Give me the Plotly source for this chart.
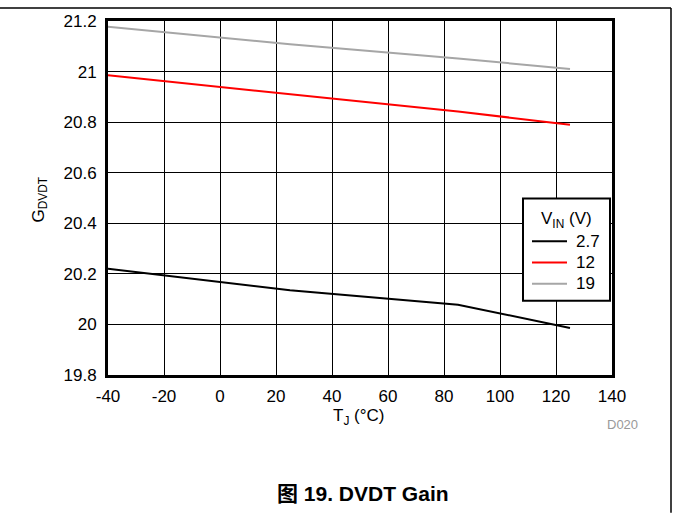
import plotly.graph_objects as go

temps = [-40, 0, 25, 85, 125]
g_27 = [20.22, 20.168, 20.135, 20.078, 19.986]
g_12 = [20.985, 20.94, 20.912, 20.842, 20.79]
g_19 = [21.177, 21.135, 21.108, 21.052, 21.01]
series_names = ["2.7", "12", "19"]
series_colors = ["#000000", "#ff0000", "#a6a6a6"]
x_ticks = [-40, -20, 0, 20, 40, 60, 80, 100, 120, 140]
y_ticks = [19.8, 20, 20.2, 20.4, 20.6, 20.8, 21, 21.2]
y_labels = ["19.8", "20", "20.2", "20.4", "20.6", "20.8", "21", "21.2"]

W, H = 673, 514
L, R, T, B = 108, 61, 18, 139
pw, ph = W - L - R, H - T - B

FAM = "Liberation Sans, Arial, sans-serif"
font = dict(family=FAM, size=17, color="black")

fig = go.Figure()
for name, vals, col in zip(series_names, [g_27, g_12, g_19], series_colors):
    fig.add_trace(go.Scatter(x=temps, y=vals, mode="lines", name=name,
                             line=dict(color=col, width=2), showlegend=False))


def px_x(px):
    return (px - L) / pw


def px_y(py):
    return (H - B - py) / ph


fig.update_layout(
    width=W, height=H,
    margin=dict(l=L, r=R, t=T, b=B, pad=0),
    paper_bgcolor="white", plot_bgcolor="white",
    font=font,
    xaxis=dict(range=[-40, 140], tickvals=x_ticks, ticktext=[str(v) for v in x_ticks],
               showgrid=True, gridcolor="black", gridwidth=1, zeroline=False,
               showline=True, linecolor="black", linewidth=3, mirror=True,
               ticks="", tickfont=font, ticklabelstandoff=4),
    yaxis=dict(range=[19.8, 21.2], tickvals=y_ticks, ticktext=y_labels,
               showgrid=True, gridcolor="black", gridwidth=1, zeroline=False,
               showline=True, linecolor="black", linewidth=3, mirror=True,
               ticks="", tickfont=font, ticklabelstandoff=5),
    showlegend=False,
)

line_px = dict(xref="paper", yref="paper", type="line")
# outer frame (top and right)
fig.add_shape(x0=px_x(0), x1=px_x(671), y0=px_y(5), y1=px_y(5),
              line=dict(color="black", width=1.5), **line_px)
fig.add_shape(x0=px_x(671), x1=px_x(671), y0=px_y(5), y1=px_y(514),
              line=dict(color="black", width=1.5), **line_px)

# legend box
fig.add_shape(type="rect", xref="paper", yref="paper",
              x0=px_x(523), x1=px_x(610), y0=px_y(300), y1=px_y(197),
              fillcolor="white", line=dict(color="black", width=2), layer="above")
anno = dict(xref="paper", yref="paper", showarrow=False, yanchor="middle")
fig.add_annotation(text="V<sub>IN</sub> (V)", x=px_x(566), y=px_y(219), xanchor="center", font=font, **anno)
for i, (name, col) in enumerate(zip(series_names, series_colors)):
    yy = 240 + i * 21.5
    fig.add_shape(x0=px_x(532), x1=px_x(567), y0=px_y(yy), y1=px_y(yy),
                  line=dict(color=col, width=2), layer="above", **line_px)
    fig.add_annotation(text=name, x=px_x(574), y=px_y(yy), xanchor="left", font=font, **anno)

fig.add_annotation(text="T<sub>J</sub> (°C)", x=px_x(358), y=px_y(417), xanchor="center", font=font, **anno)
fig.add_annotation(text="G<sub>DVDT</sub>", x=px_x(40), y=px_y(198), xanchor="center", textangle=-90, font=font, **anno)
fig.add_annotation(text="D020", x=px_x(622), y=px_y(425), xanchor="center",
                   font=dict(family=FAM, size=13, color="#999999"), **anno)
fig.add_annotation(text="<b>图 19. DVDT Gain</b>", x=px_x(363), y=px_y(495), xanchor="center",
                   font=dict(family="Liberation Sans, Noto Sans CJK SC, sans-serif", size=21, color="black"), **anno)

fig.write_html("out.html", config={"displayModeBar": False},
               post_script="document.body.style.margin='0';document.body.style.overflow='hidden';")
